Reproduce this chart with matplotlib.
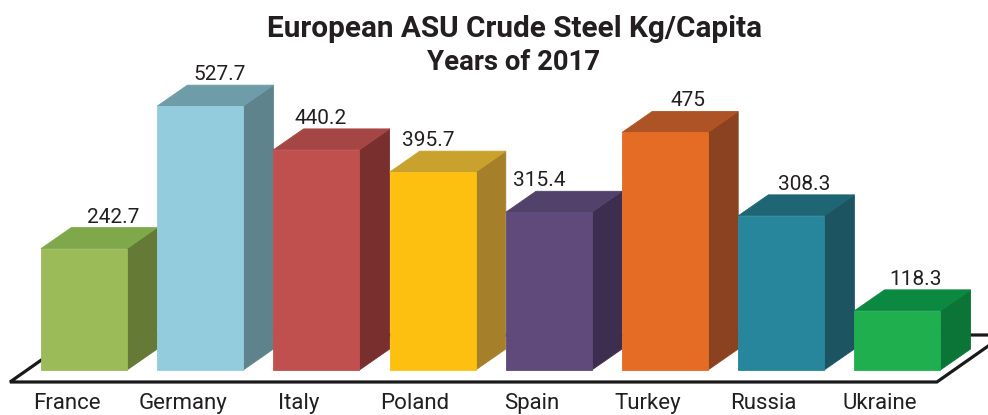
import numpy as np
import matplotlib
matplotlib.use('Agg')
import matplotlib.pyplot as plt
from matplotlib.patches import Polygon

# Data
countries = ['France', 'Germany', 'Italy', 'Poland', 'Spain', 'Turkey', 'Russia', 'Ukraine']
values = [242.7, 527.7, 440.2, 395.7, 315.4, 475, 308.3, 118.3]
labels = ['242.7', '527.7', '440.2', '395.7', '315.4', '475', '308.3', '118.3']

# colours: front, top, side
front_cols = ['#9BBB59', '#93CDDD', '#C0504D', '#FDC010', '#604A7B', '#E46C25', '#27869C', '#1FAF4F']
top_cols = ['#7FA84A', '#6E9CA9', '#A64644', '#C9A22E', '#52426B', '#AD5325', '#1F6675', '#0C8940']
side_cols = ['#647A36', '#5E838C', '#7A2F2F', '#A67F2A', '#3D2E50', '#8B4220', '#1D5462', '#0B7538']
label_nudge = [0.25, 0.17, 0.04, -0.04, -0.08, 0.2, 0.2, 0.16]  # x shift of value labels

plt.rcParams['font.family'] = ['Roboto', 'DejaVu Sans']

fig = plt.figure(figsize=(9.88, 4.15), dpi=100)
ax = fig.add_axes([0, 0, 1, 1])
ax.set_xlim(-0.723, 7.78)
ax.set_ylim(-90, 740)
ax.axis('off')

bw = 0.74    # bar width
ddx = 0.26   # depth offset in x
ddy = 42     # depth offset in y

# floor
fl, fr = -0.637, 7.34
f0, fdx, fdy = -24, 0.577, 94
floor = Polygon([(fl, f0), (fr, f0), (fr + fdx, f0 + fdy), (fl + fdx, f0 + fdy)],
                closed=True, facecolor='white', edgecolor='#1a1a1a', lw=2.3, zorder=1)
ax.add_patch(floor)

for i, v in enumerate(values):
    x0, x1 = i - bw / 2, i + bw / 2
    side = Polygon([(x1, 0), (x1 + ddx, ddy), (x1 + ddx, v + ddy), (x1, v)],
                   facecolor=side_cols[i], edgecolor=side_cols[i], lw=0.6, zorder=3)
    top = Polygon([(x0, v), (x1, v), (x1 + ddx, v + ddy), (x0 + ddx, v + ddy)],
                  facecolor=top_cols[i], edgecolor=top_cols[i], lw=0.6, zorder=3)
    front = Polygon([(x0, 0), (x1, 0), (x1, v), (x0, v)], facecolor=front_cols[i],
                    edgecolor=front_cols[i], lw=0.6, zorder=3)
    for p in (side, top, front):
        ax.add_patch(p)
    ax.text(i + label_nudge[i], v + ddy + 10, labels[i], ha='center', va='baseline',
            fontsize=15, color='#231f20', zorder=4)
    ax.text(i - 0.15, -78, countries[i], ha='center', va='baseline',
            fontsize=16, color='#231f20', zorder=4)

fig.text(0.521, 0.911, 'European ASU Crude Steel Kg/Capita', ha='center', va='baseline',
         fontsize=21.4, fontweight='bold', color='#231f20')
fig.text(0.520, 0.831, 'Years of 2017', ha='center', va='baseline',
         fontsize=19.8, fontweight='bold', color='#231f20')

fig.savefig('out.png', dpi=100)
